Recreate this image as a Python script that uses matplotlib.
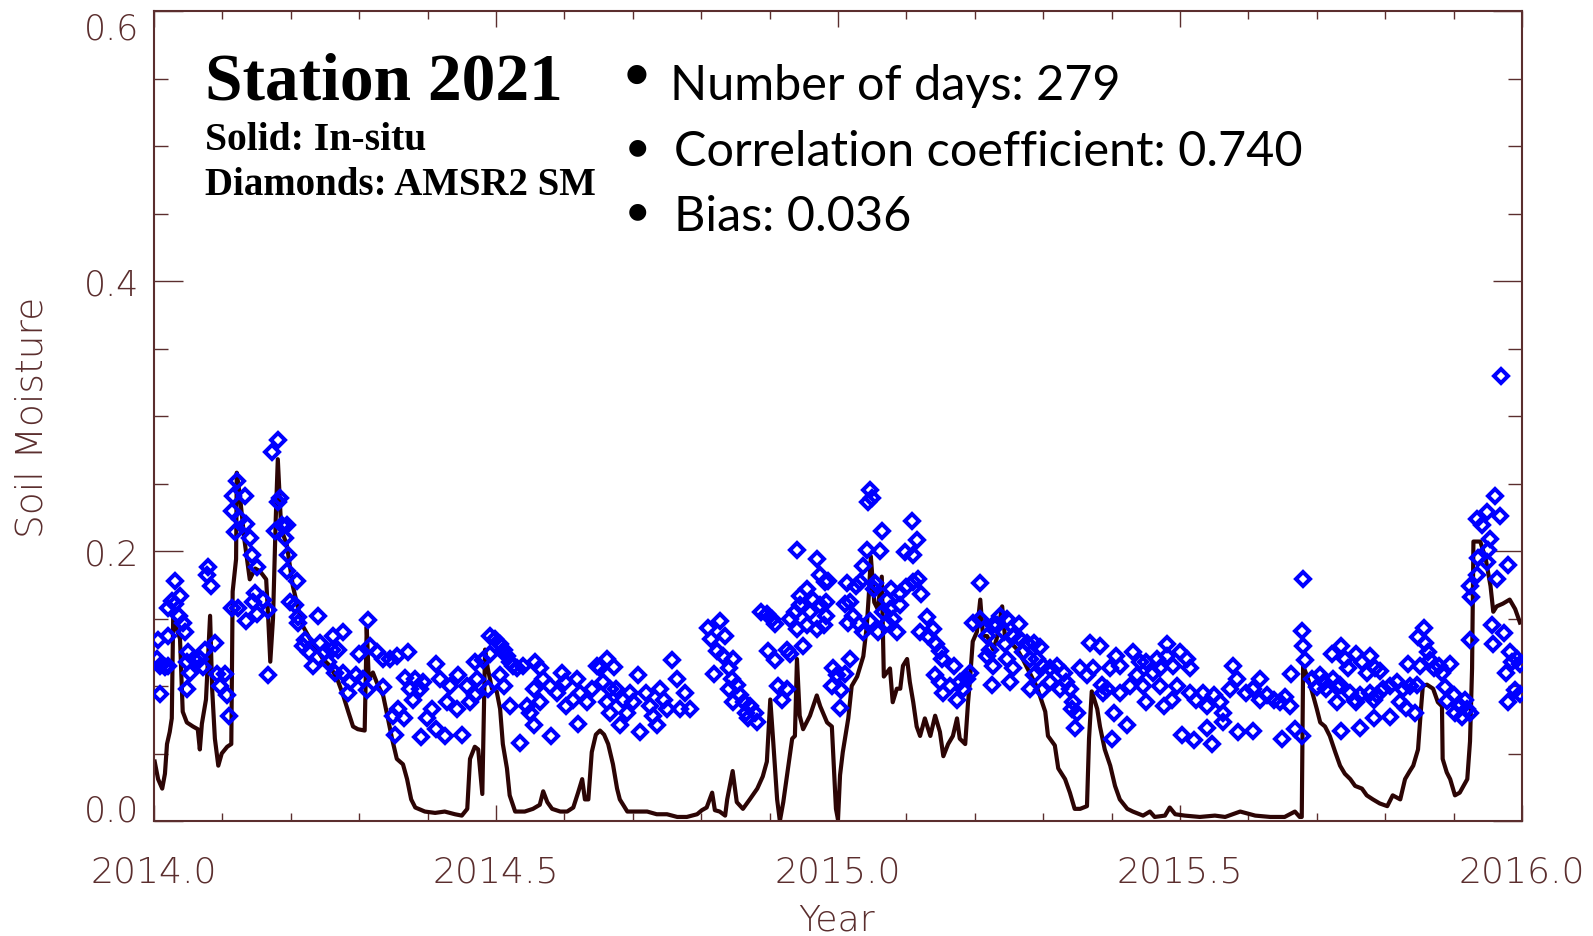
import matplotlib
matplotlib.use("Agg")
import matplotlib.pyplot as plt
from matplotlib import font_manager
from matplotlib.ticker import MultipleLocator

# in-situ soil moisture (solid line)
insitu_year = [
    2014.001, 2014.006, 2014.012, 2014.016, 2014.019, 2014.023, 2014.026, 2014.028, 2014.038, 2014.042,
    2014.048, 2014.057, 2014.064, 2014.067, 2014.070, 2014.076, 2014.082, 2014.085, 2014.089, 2014.094,
    2014.099, 2014.107, 2014.113, 2014.115, 2014.120, 2014.121, 2014.126, 2014.132, 2014.136, 2014.140,
    2014.148, 2014.155, 2014.164, 2014.167, 2014.170, 2014.174, 2014.178, 2014.181, 2014.186, 2014.194,
    2014.203, 2014.211, 2014.218, 2014.228, 2014.238, 2014.247, 2014.257, 2014.268, 2014.276, 2014.284,
    2014.291, 2014.298, 2014.308, 2014.311, 2014.314, 2014.320, 2014.327, 2014.335, 2014.342, 2014.348,
    2014.355, 2014.364, 2014.370, 2014.376, 2014.382, 2014.396, 2014.411, 2014.425, 2014.440, 2014.450,
    2014.458, 2014.462, 2014.469, 2014.474, 2014.480, 2014.484, 2014.488, 2014.494, 2014.501, 2014.506,
    2014.510, 2014.516, 2014.520, 2014.528, 2014.542, 2014.554, 2014.564, 2014.569, 2014.575, 2014.582,
    2014.594, 2014.604, 2014.613, 2014.620, 2014.626, 2014.630, 2014.635, 2014.640, 2014.646, 2014.652,
    2014.658, 2014.664, 2014.671, 2014.677, 2014.681, 2014.692, 2014.706, 2014.721, 2014.735, 2014.750,
    2014.765, 2014.779, 2014.794, 2014.801, 2014.808, 2014.816, 2014.820, 2014.827, 2014.835, 2014.838,
    2014.846, 2014.852, 2014.861, 2014.871, 2014.882, 2014.890, 2014.896, 2014.901, 2014.905, 2014.911,
    2014.915, 2014.920, 2014.927, 2014.933, 2014.937, 2014.940, 2014.944, 2014.949, 2014.959, 2014.969,
    2014.974, 2014.984, 2014.991, 2014.994, 2014.997, 2015.000, 2015.003, 2015.007, 2015.015, 2015.020,
    2015.028, 2015.037, 2015.042, 2015.045, 2015.048, 2015.053, 2015.058, 2015.064, 2015.067, 2015.076,
    2015.080, 2015.086, 2015.091, 2015.095, 2015.101, 2015.105, 2015.110, 2015.115, 2015.120, 2015.127,
    2015.135, 2015.142, 2015.149, 2015.154, 2015.161, 2015.168, 2015.174, 2015.178, 2015.186, 2015.190,
    2015.193, 2015.197, 2015.203, 2015.208, 2015.212, 2015.218, 2015.227, 2015.232, 2015.240, 2015.244,
    2015.251, 2015.262, 2015.270, 2015.281, 2015.291, 2015.295, 2015.303, 2015.307, 2015.317, 2015.322,
    2015.332, 2015.339, 2015.346, 2015.354, 2015.364, 2015.367, 2015.371, 2015.379, 2015.383, 2015.390,
    2015.398, 2015.405, 2015.412, 2015.423, 2015.431, 2015.446, 2015.456, 2015.463, 2015.478, 2015.485,
    2015.493, 2015.507, 2015.529, 2015.551, 2015.566, 2015.588, 2015.610, 2015.632, 2015.653, 2015.668,
    2015.675, 2015.678, 2015.680, 2015.686, 2015.693, 2015.700, 2015.705, 2015.712, 2015.719, 2015.727,
    2015.734, 2015.741, 2015.749, 2015.756, 2015.766, 2015.773, 2015.782, 2015.792, 2015.803, 2015.811,
    2015.822, 2015.829, 2015.836, 2015.841, 2015.848, 2015.852, 2015.855, 2015.861, 2015.870, 2015.877,
    2015.883, 2015.884, 2015.890, 2015.895, 2015.902, 2015.909, 2015.920, 2015.924, 2015.927, 2015.929,
    2015.939, 2015.947, 2015.954, 2015.958, 2015.963, 2015.972, 2015.982, 2015.990, 2015.997,
]
insitu_sm = [
    0.044, 0.031, 0.024, 0.035, 0.057, 0.066, 0.076, 0.150, 0.135, 0.081,
    0.073, 0.070, 0.068, 0.053, 0.072, 0.090, 0.152, 0.098, 0.061, 0.041,
    0.050, 0.055, 0.057, 0.170, 0.194, 0.258, 0.239, 0.209, 0.194, 0.179,
    0.187, 0.185, 0.179, 0.150, 0.118, 0.150, 0.224, 0.268, 0.216, 0.205,
    0.174, 0.157, 0.144, 0.135, 0.127, 0.120, 0.115, 0.105, 0.094, 0.081,
    0.070, 0.068, 0.067, 0.144, 0.105, 0.110, 0.101, 0.093, 0.076, 0.061,
    0.046, 0.042, 0.031, 0.016, 0.010, 0.007, 0.006, 0.007, 0.005, 0.004,
    0.009, 0.046, 0.055, 0.053, 0.020, 0.127, 0.113, 0.098, 0.096, 0.083,
    0.057, 0.039, 0.019, 0.007, 0.007, 0.009, 0.012, 0.022, 0.014, 0.009,
    0.007, 0.007, 0.010, 0.021, 0.031, 0.016, 0.016, 0.051, 0.064, 0.067,
    0.064, 0.057, 0.042, 0.024, 0.016, 0.007, 0.007, 0.007, 0.005, 0.005,
    0.003, 0.003, 0.005, 0.008, 0.010, 0.021, 0.008, 0.007, 0.004, 0.016,
    0.037, 0.014, 0.009, 0.016, 0.024, 0.033, 0.044, 0.090, 0.061, 0.016,
    0.000, 0.014, 0.039, 0.061, 0.063, 0.120, 0.078, 0.068, 0.078, 0.093,
    0.085, 0.073, 0.070, 0.039, 0.009, 0.001, 0.034, 0.051, 0.076, 0.100,
    0.107, 0.122, 0.144, 0.167, 0.196, 0.162, 0.157, 0.181, 0.107, 0.113,
    0.088, 0.098, 0.098, 0.115, 0.120, 0.103, 0.088, 0.070, 0.063, 0.076,
    0.063, 0.078, 0.066, 0.048, 0.057, 0.063, 0.076, 0.061, 0.057, 0.087,
    0.105, 0.133, 0.140, 0.164, 0.137, 0.137, 0.127, 0.135, 0.159, 0.137,
    0.133, 0.127, 0.120, 0.109, 0.099, 0.093, 0.081, 0.063, 0.056, 0.039,
    0.031, 0.021, 0.009, 0.009, 0.011, 0.061, 0.096, 0.083, 0.070, 0.053,
    0.041, 0.026, 0.016, 0.009, 0.007, 0.004, 0.007, 0.003, 0.004, 0.010,
    0.005, 0.004, 0.003, 0.004, 0.003, 0.007, 0.004, 0.003, 0.003, 0.007,
    0.003, 0.003, 0.115, 0.107, 0.096, 0.083, 0.073, 0.070, 0.063, 0.051,
    0.041, 0.035, 0.031, 0.026, 0.024, 0.019, 0.016, 0.013, 0.011, 0.019,
    0.016, 0.031, 0.037, 0.041, 0.053, 0.081, 0.100, 0.101, 0.098, 0.088,
    0.085, 0.046, 0.036, 0.031, 0.019, 0.021, 0.031, 0.059, 0.113, 0.207,
    0.207, 0.194, 0.174, 0.155, 0.159, 0.161, 0.164, 0.157, 0.147,
]

# AMSR2 soil moisture retrievals (diamonds)
amsr2_year = [
    2014.006, 2014.021, 2014.004, 2014.009, 2014.016, 2014.021, 2014.009, 2014.026, 2014.021, 2014.031,
    2014.031, 2014.038, 2014.036, 2014.043, 2014.045, 2014.050, 2014.048, 2014.058, 2014.053, 2014.048,
    2014.067, 2014.072, 2014.075, 2014.089, 2014.079, 2014.077, 2014.084, 2014.092, 2014.104, 2014.096,
    2014.106, 2014.109, 2014.114, 2014.123, 2014.118, 2014.114, 2014.116, 2014.121, 2014.133, 2014.126,
    2014.135, 2014.140, 2014.143, 2014.150, 2014.135, 2014.148, 2014.145, 2014.150, 2014.160, 2014.167,
    2014.172, 2014.182, 2014.184, 2014.182, 2014.177, 2014.187, 2014.194, 2014.192, 2014.196, 2014.194,
    2014.209, 2014.199, 2014.206, 2014.211, 2014.211, 2014.167, 2014.221, 2014.218, 2014.226, 2014.233,
    2014.240, 2014.243, 2014.250, 2014.260, 2014.262, 2014.269, 2014.277, 2014.255, 2014.265, 2014.277,
    2014.287, 2014.284, 2014.296, 2014.306, 2014.311, 2014.313, 2014.299, 2014.316, 2014.326, 2014.335,
    2014.345, 2014.355, 2014.335, 2014.357, 2014.350, 2014.365, 2014.352, 2014.367, 2014.372,
    2014.382, 2014.394, 2014.374, 2014.389, 2014.379, 2014.413, 2014.406, 2014.399, 2014.413, 2014.425,
    2014.391, 2014.450, 2014.418, 2014.433, 2014.445, 2014.443, 2014.428, 2014.462, 2014.457, 2014.469,
    2014.472, 2014.469, 2014.481, 2014.491, 2014.491, 2014.499, 2014.506, 2014.511, 2014.516, 2014.520,
    2014.525, 2014.530, 2014.540, 2014.520, 2014.511, 2014.506, 2014.488, 2014.535, 2014.557, 2014.564,
    2014.555, 2014.564, 2014.545, 2014.550, 2014.555, 2014.581, 2014.569, 2014.579, 2014.589, 2014.596,
    2014.601, 2014.603, 2014.613, 2014.618, 2014.623, 2014.633, 2014.620, 2014.640, 2014.647, 2014.652,
    2014.662, 2014.672, 2014.657, 2014.667, 2014.662, 2014.667, 2014.681, 2014.676, 2014.686, 2014.696,
    2014.708, 2014.701, 2014.691, 2014.711, 2014.720, 2014.725, 2014.730, 2014.735, 2014.740, 2014.745,
    2014.750, 2014.757, 2014.764, 2014.776, 2014.769, 2014.784,
    2014.810, 2014.827, 2014.815, 2014.835, 2014.823, 2014.832, 2014.847, 2014.818, 2014.840, 2014.845,
    2014.852, 2014.840, 2014.857, 2014.847, 2014.862, 2014.871, 2014.866, 2014.879, 2014.869, 2014.881,
    2014.888, 2014.896, 2014.903, 2014.908, 2014.898, 2014.908, 2014.925, 2014.930, 2014.913, 2014.925,
    2014.918, 2014.940, 2014.969, 2014.974, 2014.986, 2014.981, 2014.944, 2014.954, 2014.964, 2014.937,
    2014.944, 2014.959, 2014.930, 2014.940, 2014.954, 2014.969, 2014.983, 2014.979, 2014.983, 2014.949,
    2014.974, 2015.013, 2015.027, 2015.032, 2015.018, 2015.010, 2015.022, 2015.015, 2015.030, 2015.037,
    2015.047, 2015.059, 2015.037, 2015.042, 2015.064, 2015.061, 2015.047, 2015.049, 2015.044, 2015.054,
    2015.052, 2014.993, 2014.998, 2015.010, 2015.018, 2014.991, 2015.005, 2015.003, 2015.071, 2015.078,
    2015.091, 2015.100, 2015.110, 2015.117, 2015.122, 2015.066, 2015.076, 2015.081, 2015.091, 2015.071,
    2015.086, 2015.108, 2015.115, 2015.098, 2015.110, 2015.120, 2015.130, 2015.139, 2015.132, 2015.144,
    2015.149, 2015.152, 2015.169, 2015.142, 2015.149, 2015.154, 2015.164, 2015.174, 2015.183, 2015.188,
    2015.193, 2015.178, 2015.208, 2015.198, 2015.208, 2015.218, 2015.227, 2015.222, 2015.218, 2015.227,
    2015.225,
    2015.237, 2015.232, 2015.242, 2015.247, 2015.264, 2015.244, 2015.256, 2015.266, 2015.276, 2015.286,
    2015.295, 2015.271, 2015.281, 2015.291, 2015.300, 2015.247, 2015.256, 2015.251, 2015.286, 2015.298,
    2015.281, 2015.310, 2015.320, 2015.330, 2015.334, 2015.310, 2015.325, 2015.339, 2015.344, 2015.342,
    2015.349, 2015.347, 2015.354, 2015.364, 2015.368, 2015.383, 2015.373, 2015.386, 2015.393, 2015.388,
    2015.398, 2015.407, 2015.412, 2015.403, 2015.400, 2015.422, 2015.412, 2015.427, 2015.432, 2015.441,
    2015.437, 2015.446, 2015.451, 2015.461, 2015.451, 2015.466, 2015.471, 2015.481, 2015.481, 2015.490,
    2015.500, 2015.510, 2015.515, 2015.495, 2015.476, 2015.488, 2015.471, 2015.515, 2015.524, 2015.534,
    2015.539, 2015.549, 2015.559, 2015.563, 2015.563, 2015.573, 2015.583, 2015.578, 2015.503, 2015.520,
    2015.539, 2015.547, 2015.585, 2015.607, 2015.597, 2015.607, 2015.617, 2015.617, 2015.627, 2015.637,
    2015.646, 2015.654, 2015.661, 2015.663, 2015.649, 2015.668, 2015.678, 2015.678, 2015.680, 2015.683,
    2015.680,
    2015.693, 2015.705, 2015.710, 2015.700, 2015.714, 2015.724, 2015.729, 2015.722, 2015.736, 2015.741,
    2015.746, 2015.758, 2015.766, 2015.778, 2015.785, 2015.792, 2015.773, 2015.734, 2015.748, 2015.756,
    2015.763, 2015.778, 2015.788, 2015.797, 2015.807, 2015.817, 2015.826, 2015.836, 2015.846, 2015.729,
    2015.758, 2015.783, 2015.822, 2015.831, 2015.844, 2015.736, 2015.763, 2015.783, 2015.807, 2015.834,
    2015.851, 2015.848, 2015.856, 2015.858, 2015.863, 2015.866, 2015.871, 2015.878, 2015.883, 2015.895,
    2015.887, 2015.890, 2015.900, 2015.909, 2015.912, 2015.917, 2015.924, 2015.919, 2015.902, 2015.924,
    2015.926, 2015.924, 2015.934, 2015.936, 2015.934, 2015.941, 2015.949, 2015.953, 2015.951, 2015.961,
    2015.968, 2015.949, 2015.963, 2015.980, 2015.956, 2015.958, 2015.973, 2015.983, 2015.985, 2015.992,
    2015.997, 2015.976, 2015.990, 2015.980, 2015.997, 2015.970,
]
amsr2_sm = [
    0.134, 0.137, 0.120, 0.115, 0.114, 0.115, 0.094, 0.163, 0.158, 0.161,
    0.178, 0.167, 0.152, 0.147, 0.140, 0.125, 0.118, 0.120, 0.110, 0.098,
    0.120, 0.114, 0.127, 0.132, 0.188, 0.182, 0.174, 0.109, 0.109, 0.100,
    0.093, 0.078, 0.158, 0.158, 0.214, 0.230, 0.241, 0.252, 0.241, 0.224,
    0.220, 0.210, 0.197, 0.188, 0.148, 0.169, 0.162, 0.153, 0.164, 0.156,
    0.273, 0.282, 0.239, 0.236, 0.215, 0.219, 0.219, 0.210, 0.197, 0.185,
    0.178, 0.162, 0.160, 0.151, 0.147, 0.108, 0.134, 0.130, 0.125, 0.115,
    0.152, 0.132, 0.125, 0.127, 0.137, 0.127, 0.140, 0.118, 0.110, 0.110,
    0.103, 0.095, 0.108, 0.105, 0.097, 0.149, 0.124, 0.130, 0.125, 0.120,
    0.120, 0.122, 0.099, 0.083, 0.078, 0.076, 0.064, 0.106, 0.125,
    0.105, 0.103, 0.098, 0.098, 0.090, 0.116, 0.083, 0.076, 0.068, 0.063,
    0.062, 0.064, 0.105, 0.100, 0.108, 0.083, 0.088, 0.088, 0.100, 0.093,
    0.105, 0.118, 0.119, 0.124, 0.137, 0.135, 0.131, 0.127, 0.122, 0.118,
    0.115, 0.113, 0.115, 0.085, 0.100, 0.108, 0.098, 0.058, 0.118, 0.113,
    0.098, 0.088, 0.085, 0.080, 0.071, 0.063, 0.105, 0.100, 0.095, 0.110,
    0.103, 0.085, 0.090, 0.105, 0.095, 0.088, 0.072, 0.098, 0.115, 0.113,
    0.120, 0.114, 0.103, 0.098, 0.088, 0.080, 0.071, 0.098, 0.090, 0.095,
    0.108, 0.088, 0.080, 0.066, 0.095, 0.085, 0.078, 0.071, 0.098, 0.090,
    0.083, 0.119, 0.105, 0.095, 0.083, 0.083,
    0.143, 0.148, 0.135, 0.137, 0.126, 0.122, 0.120, 0.109, 0.113, 0.105,
    0.101, 0.098, 0.093, 0.088, 0.088, 0.085, 0.080, 0.080, 0.076, 0.073,
    0.155, 0.153, 0.150, 0.146, 0.126, 0.119, 0.127, 0.124, 0.100, 0.098,
    0.090, 0.201, 0.194, 0.182, 0.178, 0.177, 0.167, 0.172, 0.164, 0.155,
    0.160, 0.155, 0.150, 0.142, 0.145, 0.142, 0.152, 0.145, 0.162, 0.130,
    0.160, 0.176, 0.174, 0.177, 0.162, 0.161, 0.152, 0.147, 0.146, 0.140,
    0.148, 0.140, 0.189, 0.201, 0.215, 0.200, 0.245, 0.239, 0.236, 0.176,
    0.172, 0.113, 0.108, 0.109, 0.120, 0.100, 0.097, 0.084, 0.164, 0.172,
    0.169, 0.173, 0.177, 0.179, 0.168, 0.155, 0.157, 0.150, 0.160, 0.147,
    0.140, 0.222, 0.208, 0.199, 0.197, 0.140, 0.151, 0.142, 0.137, 0.131,
    0.126, 0.120, 0.115, 0.108, 0.103, 0.095, 0.100, 0.090, 0.098, 0.105,
    0.110, 0.103, 0.176, 0.147, 0.150, 0.137, 0.145, 0.127, 0.122, 0.115,
    0.101,
    0.152, 0.145, 0.140, 0.150, 0.146, 0.131, 0.137, 0.135, 0.132, 0.132,
    0.129, 0.125, 0.120, 0.120, 0.115, 0.120, 0.113, 0.103, 0.108, 0.097,
    0.098, 0.113, 0.115, 0.110, 0.103, 0.103, 0.098, 0.098, 0.088, 0.083,
    0.080, 0.069, 0.113, 0.108, 0.132, 0.130, 0.113, 0.101, 0.098, 0.095,
    0.113, 0.122, 0.115, 0.080, 0.061, 0.071, 0.095, 0.100, 0.125, 0.118,
    0.108, 0.100, 0.088, 0.110, 0.118, 0.120, 0.113, 0.131, 0.122, 0.115,
    0.125, 0.120, 0.113, 0.100, 0.085, 0.090, 0.100, 0.095, 0.090, 0.095,
    0.085, 0.093, 0.088, 0.080, 0.073, 0.098, 0.105, 0.115, 0.064, 0.060,
    0.069, 0.057, 0.066, 0.067, 0.095, 0.098, 0.105, 0.090, 0.093, 0.090,
    0.088, 0.092, 0.085, 0.109, 0.061, 0.068, 0.063, 0.141, 0.130, 0.119,
    0.179,
    0.105, 0.108, 0.103, 0.099, 0.098, 0.105, 0.099, 0.124, 0.130, 0.120,
    0.113, 0.124, 0.118, 0.122, 0.113, 0.111, 0.110, 0.101, 0.095, 0.090,
    0.093, 0.095, 0.093, 0.098, 0.100, 0.103, 0.098, 0.100, 0.101, 0.088,
    0.088, 0.090, 0.088, 0.084, 0.080, 0.067, 0.069, 0.076, 0.077, 0.116,
    0.115, 0.136, 0.143, 0.132, 0.125, 0.119, 0.113, 0.115, 0.110, 0.116,
    0.099, 0.089, 0.093, 0.085, 0.077, 0.090, 0.080, 0.083, 0.080, 0.134,
    0.166, 0.174, 0.182, 0.195, 0.224, 0.219, 0.229, 0.209, 0.201, 0.241,
    0.226, 0.192, 0.179, 0.190, 0.145, 0.131, 0.139, 0.125, 0.118, 0.120,
    0.116, 0.110, 0.097, 0.088, 0.094, 0.330,
]

y_ticks = [0.0, 0.2, 0.4, 0.6]
x_ticks = [2014.0, 2014.5, 2015.0, 2015.5, 2016.0]
title_text = "Station 2021"
legend_lines = ["Solid: In-situ", "Diamonds: AMSR2 SM"]
stat_lines = ["Number of days: 279", "Correlation coefficient: 0.740", "Bias: 0.036"]

AXIS_COLOR = "#5b2e2e"
LINE_COLOR = "#2c0505"

W, H = 1593, 937
fig = plt.figure(figsize=(W / 100, H / 100), dpi=100)
ax = fig.add_axes([154 / W, (H - 822) / H, 1368 / W, 810 / H])

ax.plot(insitu_year, insitu_sm, color=LINE_COLOR, lw=3.0, zorder=2)
ax.plot(amsr2_year, amsr2_sm, linestyle="none", marker="D", ms=6.8, mew=2.9,
        mfc="none", mec="#0000ff", zorder=3)

ax.set_xlim(2014.0, 2016.0)
ax.set_ylim(0.0, 0.6)
ax.set_xticks(x_ticks)
ax.set_xticklabels(["%.1f" % t for t in x_ticks])
ax.set_yticks(y_ticks)
ax.set_yticklabels(["%.1f" % t for t in y_ticks])
ax.xaxis.set_minor_locator(MultipleLocator(0.1))
ax.yaxis.set_minor_locator(MultipleLocator(0.05))

for sp in ax.spines.values():
    sp.set_color(AXIS_COLOR)
    sp.set_linewidth(1.5)

ax.tick_params(axis="both", which="both", direction="in", top=True, right=True,
               color=AXIS_COLOR, width=1.0, labelcolor=AXIS_COLOR)
ax.tick_params(axis="x", which="major", length=11.5, pad=24, labelsize=26)
ax.tick_params(axis="x", which="minor", length=6)
ax.tick_params(axis="y", which="major", length=21, pad=11, labelsize=25)
ax.tick_params(axis="y", which="minor", length=10)
for lab in ax.get_xticklabels() + ax.get_yticklabels():
    lab.set_fontweight("light")
# end labels of the y axis sit inside the axis range, as in the original
ylabs = ax.get_yticklabels()
ylabs[0].set_va("baseline")
ylabs[-1].set_va("top")

ax.set_xlabel("Year", fontsize=26, color=AXIS_COLOR, va="center", fontweight="light")
ax.xaxis.set_label_coords(0.499, -0.121)
ax.set_ylabel("Soil Moisture", fontsize=27, color=AXIS_COLOR, va="center", fontweight="light")
ax.yaxis.set_label_coords(-0.089, 0.5)

# annotation text (figure pixel positions)
def fx(px):
    return px / W

def fy(py):
    return 1 - py / H

fig.text(fx(205), fy(100), title_text, family="Liberation Serif", weight="bold",
         fontsize=48.5, va="baseline")
fig.text(fx(205), fy(150), legend_lines[0], family="Liberation Serif", weight="bold",
         fontsize=28.5, va="baseline")
fig.text(fx(205), fy(195), legend_lines[1], family="Liberation Serif", weight="bold",
         fontsize=28, va="baseline")

installed = {f.name for f in font_manager.fontManager.ttflist}
if "Liberation Sans Narrow" in installed:
    stat_font, stat_size = "Liberation Sans Narrow", 38
else:
    stat_font, stat_size = "Lato", 35

stat_x = [670, 674, 674]
stat_base = [100, 166, 231]
bullet_y = [74, 147, 211]
for i, s in enumerate(stat_lines):
    fig.text(fx(stat_x[i]), fy(stat_base[i]), s, family=stat_font, fontsize=stat_size,
             va="baseline")
    fig.text(fx(637), fy(bullet_y[i]), "\u25cf", family="DejaVu Sans",
             fontsize=18 if i == 0 else 16, ha="center", va="center")

fig.savefig("out.png", dpi=100)
